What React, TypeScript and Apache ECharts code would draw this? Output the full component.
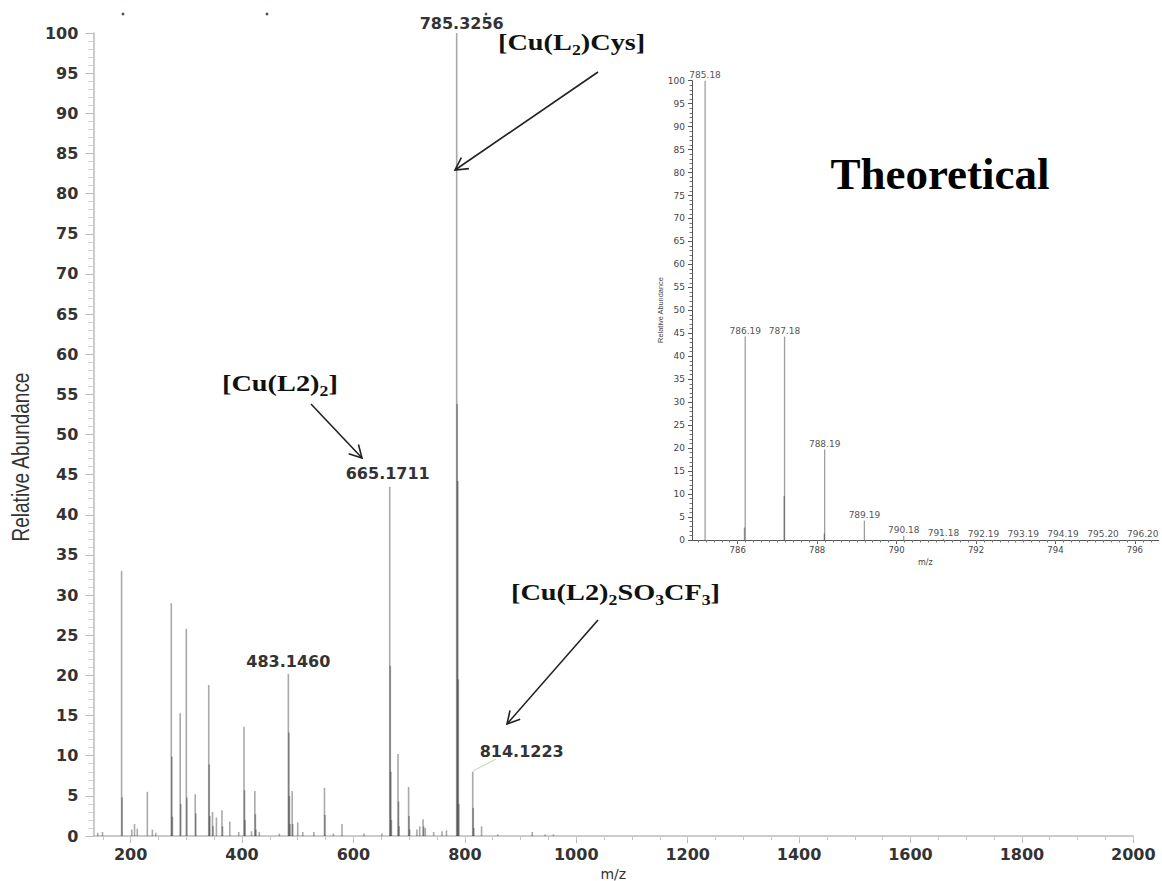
import { useEffect, useRef } from 'react';
import * as echarts from 'echarts';

// main spectrum (m/z, relative abundance)
const mainMz = [
  141.0, 149.5, 183.8, 184.8, 202.0, 207.0, 212.0, 230.0, 239.0, 245.0,
  273.0, 274.0, 275.0, 289.0, 290.0, 300.0, 301.0, 316.0, 317.0, 340.2,
  341.2, 342.2, 347.0, 348.0, 354.0, 364.0, 365.0, 378.0, 394.0, 403.5,
  404.5, 405.5, 417.0, 423.0, 424.0, 425.0, 431.0, 467.0, 483.15, 484.15,
  485.15, 486.15, 490.0, 491.0, 500.0, 509.0, 529.0, 548.0, 549.0, 564.0,
  579.5, 619.0, 651.0, 665.17, 666.17, 667.17, 668.17, 680.0, 681.0, 682.0,
  699.0, 700.0, 701.0, 714.0, 719.0, 725.0, 726.0, 729.0, 744.0, 759.0,
  767.0, 785.33, 786.33, 787.33, 788.33, 789.33, 814.12, 815.12, 816.12, 830.0,
  859.0, 921.0, 944.0, 959.0,
];
const mainAbundance = [
  0.4, 0.5, 33.0, 4.8, 0.8, 1.5, 0.9, 5.5, 0.8, 0.4,
  29.0, 9.9, 2.4, 15.3, 4.0, 25.8, 4.8, 5.2, 2.8, 18.8,
  8.9, 2.5, 3.0, 1.2, 2.3, 3.2, 1.2, 1.8, 0.5, 13.6,
  5.7, 2.0, 0.6, 5.6, 2.7, 0.8, 0.5, 0.3, 20.2, 12.9,
  5.0, 1.5, 5.6, 1.5, 1.7, 0.5, 0.5, 6.0, 2.6, 0.3,
  1.5, 0.3, 0.3, 43.5, 21.2, 8.0, 2.0, 10.2, 4.3, 1.2,
  6.1, 2.5, 0.8, 0.8, 1.2, 2.1, 1.2, 1.0, 0.5, 0.6,
  0.7, 100, 53.8, 44.2, 19.5, 4.0, 8.0, 3.5, 1.0, 1.2,
  0.2, 0.5, 0.2, 0.2,
];
const mainLabelMz = [785.33, 665.17, 483.15, 814.12];
const mainLabelText = ['785.3256', '665.1711', '483.1460', '814.1223'];
const mainXTickLabels = [200, 400, 600, 800, 1000, 1200, 1400, 1600, 1800, 2000];

// theoretical isotope pattern (inset)
const insetMz = [
  785.18, 786.17, 786.19, 787.17, 787.18, 788.18, 788.19, 789.19,
  790.18, 791.18, 792.19, 793.19, 794.19, 795.2, 796.2,
];
const insetAbundance = [
  100, 2.7, 44.3, 9.6, 44.3, 1.4, 19.7, 4.2,
  0.9, 0.3, 0.1, 0.05, 0.03, 0.02, 0.01,
];
const insetLabelMz = [785.18, 786.19, 787.18, 788.19, 789.19, 790.18, 791.18, 792.19, 793.19, 794.19, 795.2, 796.2];
const insetLabelText = ['785.18', '786.19', '787.18', '788.19', '789.19', '790.18', '791.18', '792.19', '793.19', '794.19', '795.20', '796.20'];
const insetXTickLabels = [786, 788, 790, 792, 794, 796];

const SANS = 'DejaVu Sans, Verdana, sans-serif';
const SERIF = 'Liberation Serif, Times New Roman, serif';

// label nudges for the main peaks, same order as mainLabelMz
const mainLabelOffset = [[5, 0], [-2, -3], [0, -2], [49, -10]];

function arrow(x1: number, y1: number, x2: number, y2: number) {
  const ang = Math.atan2(y1 - y2, x1 - x2);
  const len = 14;
  const spread = 0.5;
  const style = { stroke: '#222', lineWidth: 1.6, fill: 'none' };
  return [
    { type: 'line', z: 100, shape: { x1, y1, x2, y2 }, style },
    {
      type: 'polyline',
      z: 100,
      shape: {
        points: [
          [x2 + len * Math.cos(ang + spread), y2 + len * Math.sin(ang + spread)],
          [x2, y2],
          [x2 + len * Math.cos(ang - spread), y2 + len * Math.sin(ang - spread)],
        ],
      },
      style,
    },
  ];
}

const richFormula = {
  n: { fontFamily: SERIF, fontWeight: 'bold', fontSize: 24, lineHeight: 30, fill: '#111' },
  s: { fontFamily: SERIF, fontWeight: 'bold', fontSize: 15, lineHeight: 16, padding: [16, 0, 0, 0], fill: '#111' },
};

function formula(x: number, y: number, text: string) {
  return {
    type: 'text',
    z: 100,
    x,
    y,
    scaleX: 1.18,
    style: { text, rich: richFormula, textAlign: 'left', textVerticalAlign: 'middle', fill: '#111' },
  };
}

export default function App() {
  const chartRef = useRef<HTMLDivElement>(null);

  useEffect(() => {
    if (!chartRef.current) return;
    const chart = echarts.init(chartRef.current, undefined, { renderer: 'svg' });

    const mainMinor: number[] = [];
    for (let v = 150; v <= 2000; v += 50) mainMinor.push(v);
    const insetMinor: number[] = [];
    for (let v = 785; v <= 796.6; v += 0.2) insetMinor.push(Math.round(v * 10) / 10);

    const mainData = mainMz.map((mz, i) => {
      const li = mainLabelMz.indexOf(mz);
      if (li < 0) return [mz, mainAbundance[i]];
      return {
        value: [mz, mainAbundance[i]],
        label: { show: true, formatter: mainLabelText[li], offset: mainLabelOffset[li] },
      };
    });
    const insetData = insetMz.map((mz, i) => {
      const li = insetLabelMz.indexOf(mz);
      if (li < 0) return [mz, insetAbundance[i]];
      return { value: [mz, insetAbundance[i]], label: { show: true, formatter: insetLabelText[li] } };
    });

    const plain = (v: number) => String(v);

    const option = {
      animation: false,
      backgroundColor: '#fff',
      grid: [
        { left: 93.3, right: 28.7, top: 33, bottom: 45, outerBoundsMode: 'none' },
        { left: 692, right: 3.3, top: 80.7, bottom: 341, outerBoundsMode: 'none' },
      ],
      xAxis: [
        {
          type: 'value',
          gridIndex: 0,
          position: 'bottom',
          min: 133,
          max: 2000,
          name: 'm/z',
          nameLocation: 'middle',
          nameGap: 24,
          nameTextStyle: { fontFamily: SANS, fontSize: 14, color: '#333' },
          axisLine: { show: true, lineStyle: { color: '#bbb', width: 1.5 } },
          axisTick: { show: true, length: 7, customValues: mainXTickLabels, lineStyle: { color: '#b5b5b5' } },
          axisLabel: {
            customValues: mainXTickLabels,
            formatter: plain,
            color: '#333',
            fontFamily: SANS,
            fontWeight: 'bold',
            fontSize: 16,
            margin: 10,
          },
          splitLine: { show: false },
        },
        {
          type: 'value',
          gridIndex: 0,
          position: 'bottom',
          min: 133,
          max: 2000,
          axisLine: { show: false },
          axisTick: { show: true, length: 4, customValues: mainMinor, lineStyle: { color: '#c5c5c5' } },
          axisLabel: { show: false },
          splitLine: { show: false },
        },
        {
          type: 'value',
          gridIndex: 1,
          position: 'bottom',
          min: 784.85,
          max: 796.6,
          name: 'm/z',
          nameLocation: 'middle',
          nameGap: 14,
          nameTextStyle: { fontFamily: SANS, fontSize: 8, color: '#444' },
          axisLine: { show: true, lineStyle: { color: '#555', width: 1 } },
          axisTick: { show: true, length: 4, customValues: insetXTickLabels, lineStyle: { color: '#555' } },
          axisLabel: {
            customValues: insetXTickLabels,
            formatter: plain,
            color: '#444',
            fontFamily: SANS,
            fontSize: 8.5,
            margin: 5,
          },
          splitLine: { show: false },
        },
        {
          type: 'value',
          gridIndex: 1,
          position: 'bottom',
          min: 784.85,
          max: 796.6,
          axisLine: { show: false },
          axisTick: { show: true, length: 2.5, customValues: insetMinor, lineStyle: { color: '#777' } },
          axisLabel: { show: false },
          splitLine: { show: false },
        },
      ],
      yAxis: [
        {
          type: 'value',
          gridIndex: 0,
          min: 0,
          max: 100,
          interval: 5,
          axisLine: { show: true, lineStyle: { color: '#bbb', width: 1.5 } },
          axisTick: { show: true, length: 8, lineStyle: { color: '#bbb' } },
          minorTick: { show: true, splitNumber: 5, length: 5, lineStyle: { color: '#d0d0d0' } },
          axisLabel: { color: '#333', fontFamily: SANS, fontWeight: 'bold', fontSize: 16, margin: 15 },
          splitLine: { show: false },
          minorSplitLine: { show: false },
        },
        {
          type: 'value',
          gridIndex: 1,
          min: 0,
          max: 100,
          interval: 5,
          axisLine: { show: true, lineStyle: { color: '#555', width: 1 } },
          axisTick: { show: true, length: 4, lineStyle: { color: '#555' } },
          minorTick: { show: true, splitNumber: 5, length: 2.5, lineStyle: { color: '#777' } },
          axisLabel: { color: '#444', fontFamily: SANS, fontSize: 9, margin: 7 },
          splitLine: { show: false },
          minorSplitLine: { show: false },
        },
      ],
      series: [
        {
          name: 'Experimental',
          type: 'bar',
          xAxisIndex: 0,
          yAxisIndex: 0,
          barWidth: 1.6,
          itemStyle: { color: 'rgba(40,40,40,0.4)' },
          label: {
            show: false,
            position: 'top',
            distance: 2,
            color: '#333',
            fontFamily: SANS,
            fontWeight: 'bold',
            fontSize: 16,
          },
          data: mainData,
        },
        {
          name: 'Theoretical',
          type: 'bar',
          xAxisIndex: 2,
          yAxisIndex: 1,
          barWidth: 1.3,
          itemStyle: { color: 'rgba(40,40,40,0.45)' },
          label: {
            show: false,
            position: 'top',
            distance: 1,
            color: '#555',
            fontFamily: SANS,
            fontSize: 9,
          },
          data: insetData,
        },
      ],
      graphic: [
        // stray dots at the top of the scan
        { type: 'circle', z: 100, shape: { cx: 123, cy: 14, r: 1.4 }, style: { fill: '#4a4a90' } },
        { type: 'circle', z: 100, shape: { cx: 267, cy: 14, r: 1.4 }, style: { fill: '#4a4a90' } },
        { type: 'circle', z: 100, shape: { cx: 486, cy: 14, r: 1.4 }, style: { fill: '#4a4a90' } },
        {
          type: 'text',
          z: 100,
          x: 21,
          y: 457,
          rotation: Math.PI / 2,
          scaleY: 1.3,
          style: {
            text: 'Relative Abundance',
            fontFamily: 'Liberation Sans, Arial, sans-serif',
            fontSize: 19,
            fill: '#333',
            textAlign: 'center',
            textVerticalAlign: 'middle',
          },
        },
        {
          type: 'text',
          z: 100,
          x: 660,
          y: 310,
          rotation: Math.PI / 2,
          style: {
            text: 'Relative Abundance',
            fontFamily: 'Liberation Sans, Arial, sans-serif',
            fontSize: 7.4,
            fill: '#444',
            textAlign: 'center',
            textVerticalAlign: 'middle',
          },
        },
        {
          type: 'text',
          z: 100,
          x: 940,
          y: 174,
          style: {
            text: 'Theoretical',
            fontFamily: SERIF,
            fontWeight: 'bold',
            fontSize: 45,
            fill: '#000',
            textAlign: 'center',
            textVerticalAlign: 'middle',
          },
        },
        formula(498, 42, '{n|[Cu(L}{s|2}{n|)Cys]}'),
        formula(222, 383, '{n|[Cu(L2)}{s|2}{n|]}'),
        formula(511, 592, '{n|[Cu(L2)}{s|2}{n|SO}{s|3}{n|CF}{s|3}{n|]}'),
        ...arrow(598, 72, 455, 170),
        ...arrow(311, 404, 362, 458),
        ...arrow(598, 620, 507, 724),
        {
          type: 'line',
          z: 100,
          shape: { x1: 473, y1: 771, x2: 496, y2: 759 },
          style: { stroke: '#c8dcc2', lineWidth: 1.2 },
        },
      ],
    };

    chart.setOption(option as any);

    return () => {
      chart.dispose();
    };
  }, []);

  return (
    <div
      ref={chartRef}
      style={{ position: 'fixed', left: 0, top: 0, width: 1162, height: 881, background: '#fff' }}
    />
  );
}
